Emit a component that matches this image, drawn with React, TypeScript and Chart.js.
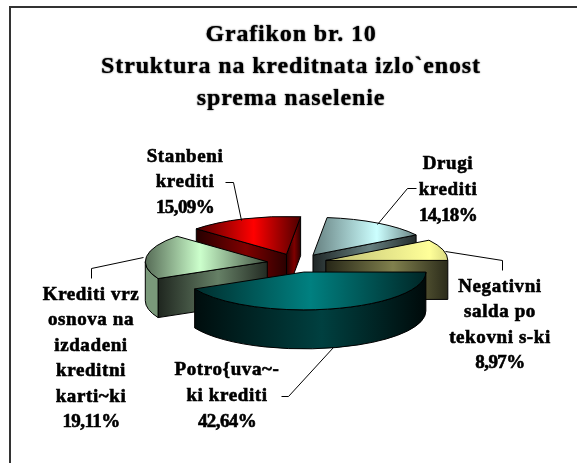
import React, { useEffect, useRef } from "react";
import { Chart, registerables } from "chart.js";

Chart.register(...registerables);

const titleLines = ["Grafikon br. 10", "Struktura na kreditnata izlo`enost", "sprema naselenie"];
const categories = [
  ["Potro{uva~-", "ki krediti"],
  ["Krediti vrz", "osnova na", "izdadeni", "kreditni", "karti~ki"],
  ["Stanbeni", "krediti"],
  ["Drugi", "krediti"],
  ["Negativni", "salda po", "tekovni s-ki"],
];
const shares = [42.64, 19.11, 15.09, 14.18, 8.97];
const sliceColors = ["#008080", "#ccffcc", "#ff0000", "#ccffff", "#ffff99"];

const FONT = '"Liberation Serif", "Times New Roman", serif';
const CX = 297, CY = 263, SQUASH = 0.31, DEPTH = 39, EXPLODE = 30;
const PAINT_ORDER = [2, 3, 4, 1, 0];
const TOP_STYLE = [
  { peak: 0.5, left: 0.35, right: 0.3 },
  { peak: 0.45, left: 0.42, right: 0.3 },
  { peak: 0.55, left: 0.3, right: 0.3 },
  { peak: 0.62, left: 0.5, right: 0.5 },
  { peak: 0.85, left: 0.75, right: 0.85 },
];
const LABEL_LAYOUT = [
  { x: 227, y: 370, step: 26 },
  { x: 91, y: 295, step: 25.4 },
  { x: 185, y: 157, step: 25.5 },
  { x: 448, y: 164, step: 26 },
  { x: 500, y: 287, step: 25.4 },
];
const LEADERS = [
  [[281, 396], [288, 396], [333, 347]],
  [[91, 278], [91, 268], [143, 257]],
  [[225, 182], [233, 182], [241, 220]],
  [[416, 188], [407, 188], [377, 224]],
  [[502, 270], [502, 260], [445, 251]],
];

function shade(hex: string, f: number) {
  const n = parseInt(hex.slice(1), 16);
  const c = [(n >> 16) & 255, (n >> 8) & 255, n & 255].map((v) => Math.round(v * f));
  return `rgb(${c[0]},${c[1]},${c[2]})`;
}

function grad(ctx: CanvasRenderingContext2D, x0: number, x1: number, stops: [number, string][]) {
  const g = ctx.createLinearGradient(x0, 0, x1, 0);
  stops.forEach(([o, c]) => g.addColorStop(o, c));
  return g;
}

const pie3d = {
  id: "pie3d",
  beforeDraw(chart: any) {
    const { ctx, width, height } = chart;
    ctx.save();
    ctx.fillStyle = "#ffffff";
    ctx.fillRect(0, 0, width, height);
    ctx.strokeStyle = "#333333";
    ctx.lineWidth = 2;
    ctx.beginPath();
    ctx.moveTo(10, height);
    ctx.lineTo(10, 7);
    ctx.lineTo(width, 7);
    ctx.stroke();
    ctx.restore();
    ctx.letterSpacing = "0.85px";
    ctx.shadowColor = "#000000";
    ctx.shadowBlur = 1.5;
  },
  beforeDatasetsDraw(chart: any) {
    const { ctx } = chart;
    ctx.letterSpacing = "0px";
    ctx.shadowColor = "transparent";
    ctx.shadowBlur = 0;
    const arcs = chart.getDatasetMeta(0).data;
    ctx.save();
    ctx.lineWidth = 1;
    ctx.strokeStyle = "#000000";
    ctx.lineJoin = "round";
    PAINT_ORDER.forEach((i) => {
      const arc = arcs[i];
      const base = arc.options.backgroundColor as string;
      const a = arc.startAngle, b = arc.endAngle, mid = (a + b) / 2;
      const rx = arc.outerRadius, ry = rx * SQUASH;
      const cx = CX + Math.cos(mid) * EXPLODE;
      const cy = CY + Math.sin(mid) * EXPLODE * SQUASH;
      const pt = (t: number) => [cx + Math.cos(t) * rx, cy + Math.sin(t) * ry];
      const pA = pt(a), pB = pt(b);
      const face = (p: number[]) => {
        const x0 = Math.min(p[0], cx), x1 = Math.max(p[0], cx);
        ctx.beginPath();
        ctx.moveTo(cx, cy);
        ctx.lineTo(p[0], p[1]);
        ctx.lineTo(p[0], p[1] + DEPTH);
        ctx.lineTo(cx, cy + DEPTH);
        ctx.closePath();
        ctx.fillStyle = grad(ctx, x0, x1, [[0, shade(base, 0.15)], [0.55, shade(base, 0.5)], [1, shade(base, 0.17)]]);
        ctx.fill();
        ctx.stroke();
      };
      if (Math.sin(a - Math.PI / 2) > 0) face(pA);
      if (Math.sin(b + Math.PI / 2) > 0) face(pB);
      const wa = Math.max(a, 0), wb = Math.min(b, Math.PI);
      if (wb > wa) {
        const p0 = pt(wa), p1 = pt(wb);
        ctx.beginPath();
        ctx.ellipse(cx, cy, rx, ry, 0, wa, wb);
        ctx.lineTo(p1[0], p1[1] + DEPTH);
        ctx.ellipse(cx, cy + DEPTH, rx, ry, 0, wb, wa, true);
        ctx.lineTo(p0[0], p0[1]);
        const xa = Math.min(p0[0], p1[0]);
        const xb = Math.max(p0[0], p1[0]);
        ctx.fillStyle = grad(ctx, xa, xb, [[0, shade(base, 0.1)], [0.55, shade(base, 0.5)], [1, shade(base, 0.08)]]);
        if (i === 1) ctx.fillStyle = shade(base, 0.6);
        ctx.fill();
        ctx.stroke();
      }
      const xs = [pA[0], pB[0], cx];
      let minX = Math.min(...xs), maxX = Math.max(...xs);
      if (a < Math.PI && b > Math.PI) minX = cx - rx;
      if (b >= Math.PI * 2) maxX = cx + rx;
      const st = TOP_STYLE[i];
      ctx.beginPath();
      ctx.moveTo(cx, cy);
      ctx.ellipse(cx, cy, rx, ry, 0, a, b);
      ctx.closePath();
      ctx.fillStyle = grad(ctx, minX, maxX, [[0, shade(base, st.left)], [st.peak, base], [1, shade(base, st.right)]]);
      ctx.fill();
      ctx.stroke();
    });
    ctx.restore();
    return false;
  },
  afterDraw(chart: any) {
    const { ctx } = chart;
    ctx.save();
    ctx.strokeStyle = "#000000";
    ctx.lineWidth = 1;
    LEADERS.forEach((pts) => {
      ctx.beginPath();
      pts.forEach((p, k) => (k ? ctx.lineTo(p[0] + 0.5, p[1] + 0.5) : ctx.moveTo(p[0] + 0.5, p[1] + 0.5)));
      ctx.stroke();
    });
    ctx.fillStyle = "#000000";
    ctx.lineWidth = 0.6;
    ctx.font = `bold 19px ${FONT}`;
    ctx.textAlign = "center";
    ctx.textBaseline = "middle";
    categories.forEach((lines, i) => {
      const { x, y, step } = LABEL_LAYOUT[i];
      const all = [...lines, shares[i].toFixed(2).replace(".", ",") + "%"];
      all.forEach((t, k) => {
        ctx.letterSpacing = k === lines.length ? "-0.6px" : "0.6px";
        ctx.fillText(t, x, y + k * step);
        ctx.strokeText(t, x, y + k * step);
      });
    });
    ctx.restore();
    ctx.letterSpacing = "0px";
  },
};

export default function App() {
  const ref = useRef<HTMLCanvasElement>(null);
  useEffect(() => {
    const chart = new Chart(ref.current!, {
      type: "pie",
      data: {
        labels: categories.map((c) => c.join(" ")),
        datasets: [{ data: shares, backgroundColor: sliceColors, borderColor: "#000000", borderWidth: 1 }],
      },
      options: {
        responsive: false,
        animation: false,
        rotation: 90,
        radius: 122,
        layout: { padding: { left: 5, right: 0, top: 19, bottom: 0 } },
        plugins: {
          legend: { display: false },
          tooltip: { enabled: false },
          title: {
            display: true,
            text: titleLines,
            color: "#000000",
            font: { family: FONT, size: 24, weight: "bold", lineHeight: 1.33 },
            padding: 0,
          },
        },
      },
      plugins: [pie3d],
    } as any);
    return () => chart.destroy();
  }, []);
  return <canvas ref={ref} width={577} height={463} style={{ position: "absolute", left: 0, top: 0, display: "block" }} />;
}
